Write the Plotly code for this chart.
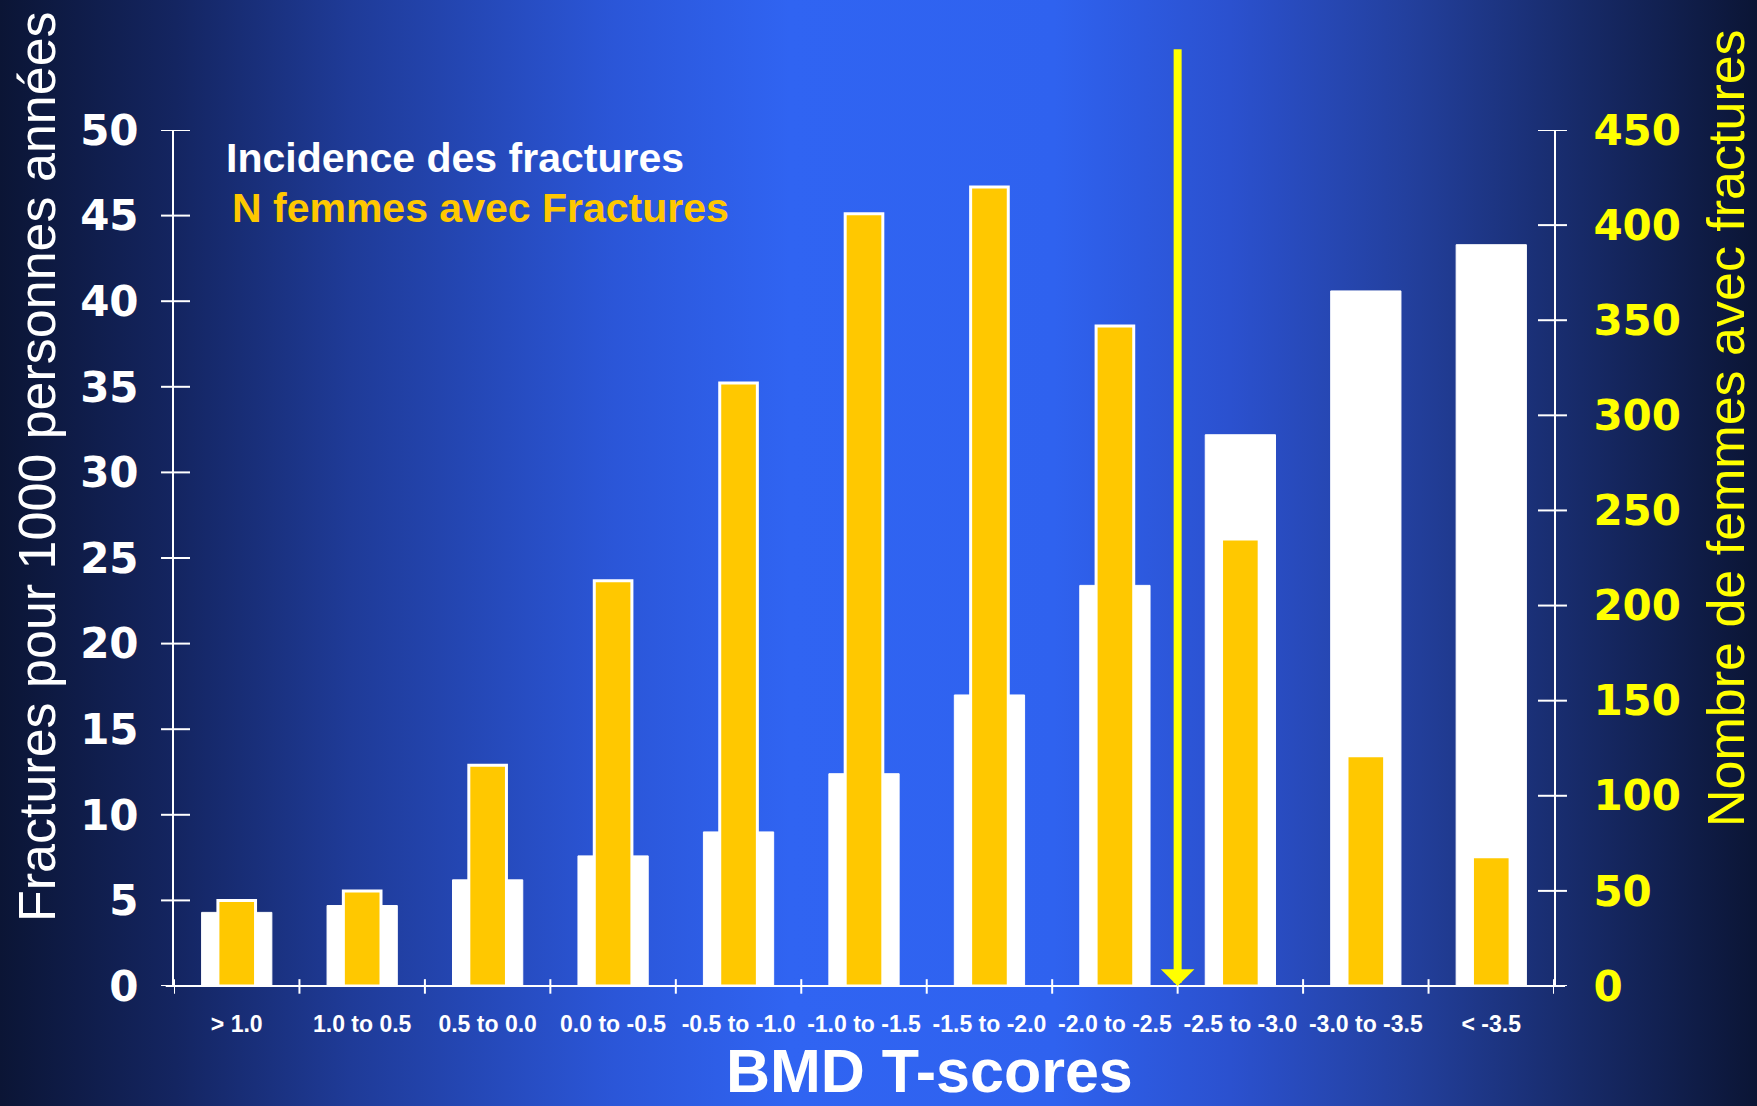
import base64

import plotly.graph_objects as go

# categories (BMD T-score bins)
categories = ["> 1.0", "1.0 to 0.5", "0.5 to 0.0", "0.0 to -0.5", "-0.5 to -1.0",
              "-1.0 to -1.5", "-1.5 to -2.0", "-2.0 to -2.5", "-2.5 to -3.0",
              "-3.0 to -3.5", "< -3.5"]

# fractures per 1000 person-years (left axis)
incidence = [4.3, 4.7, 6.2, 7.6, 9.0, 12.4, 17.0, 23.4, 32.2, 40.6, 43.3]

# number of women with fractures (right axis)
n_women = [45, 50, 116, 213, 317, 406, 420, 347, 235, 121, 68]

left_ticks = list(range(0, 51, 5))
right_ticks = list(range(0, 451, 50))

WHITE = "#ffffff"
GOLD = "#ffc800"
YELLOW = "#ffff00"

W, H = 1757, 1106
L, R, T, B = 174, 203, 130, 120
PW, PH = W - L - R, H - T - B

SANS = "Liberation Sans, Arial, sans-serif"
WIDE = "DejaVu Sans, Verdana, sans-serif"

# horizontal blue gradient behind the chart
stops = [(0.0, "#0b1535"), (0.1, "#142561"), (0.2, "#1f3b98"), (0.35, "#2b56d8"),
         (0.45, "#3064f2"), (0.6, "#2f62ef"), (0.7, "#2b51cf"), (0.8, "#23409e"),
         (0.9, "#172a68"), (1.0, "#0b1535")]
stop_xml = "".join(f'<stop offset="{o}" stop-color="{c}"/>' for o, c in stops)
svg = (f'<svg xmlns="http://www.w3.org/2000/svg" width="{W}" height="{H}" '
       f'preserveAspectRatio="none"><defs><linearGradient id="g" x1="0" x2="1" y1="0" y2="0">'
       f'{stop_xml}</linearGradient></defs><rect width="{W}" height="{H}" fill="url(#g)"/></svg>')
bg_src = "data:image/svg+xml;base64," + base64.b64encode(svg.encode()).decode()

fig = go.Figure()
fig.add_trace(go.Bar(
    x=categories, y=incidence, name="Incidence des fractures",
    width=0.56, marker=dict(color=WHITE, line=dict(color=WHITE, width=1)),
))
fig.add_trace(go.Bar(
    x=categories, y=n_women, name="N femmes avec Fractures", yaxis="y2",
    width=0.30, marker=dict(color=GOLD, line=dict(color=WHITE, width=3)),
))

fig.update_layout(
    width=W, height=H,
    margin=dict(l=L, r=R, t=T, b=B),
    paper_bgcolor="#0b1535",
    plot_bgcolor="rgba(0,0,0,0)",
    barmode="overlay",
    showlegend=False,
    images=[dict(source=bg_src, xref="paper", yref="paper",
                 x=-L / PW, y=1 + T / PH, sizex=W / PW, sizey=H / PH,
                 xanchor="left", yanchor="top", sizing="stretch", layer="below")],
    xaxis=dict(
        type="category", range=[-0.5, 10.5], ticks="", showline=False, showgrid=False,
        tickfont=dict(family=SANS, size=23, color=WHITE, weight="bold"),
        ticklabelstandoff=22,
    ),
    yaxis=dict(
        range=[0, 50], tickvals=left_ticks, ticks="", showline=True, linecolor=WHITE,
        linewidth=2, showgrid=False, zeroline=False,
        tickfont=dict(family=WIDE, size=42, color=WHITE, weight="bold"),
        ticklabelstandoff=25,
    ),
    yaxis2=dict(
        overlaying="y", side="right", anchor="x", range=[0, 450],
        tickvals=right_ticks, ticks="", showline=True, linecolor=WHITE, linewidth=2,
        showgrid=False, zeroline=False,
        tickfont=dict(family=WIDE, size=42, color=YELLOW, weight="bold"),
        ticklabelstandoff=29,
    ),
)

# crossing tick marks (both sides of each axis line) and the base line
tick_line = dict(color=WHITE, width=2)
for v in left_ticks:
    fig.add_shape(type="line", xref="x domain", yref="y", x0=-0.0094, x1=0.0116,
                  y0=v, y1=v, line=tick_line)
for v in right_ticks:
    fig.add_shape(type="line", xref="x domain", yref="y2", x0=0.9884, x1=1.0094,
                  y0=v, y1=v, line=tick_line)
for i in range(len(categories) + 1):
    fig.add_shape(type="line", xref="x", yref="y domain", x0=i - 0.5, x1=i - 0.5,
                  y0=-0.009, y1=0.008, line=tick_line)
fig.add_shape(type="line", xref="x domain", yref="y domain", x0=-0.006, x1=1.008,
              y0=0, y1=0, line=tick_line)

# legend-like labels
fig.add_annotation(text="Incidence des fractures", xref="paper", yref="paper",
                   x=(224 - L) / PW, y=(986 - 158) / PH, xanchor="left", yanchor="middle",
                   showarrow=False, font=dict(family=SANS, size=41, color=WHITE, weight="bold"))
fig.add_annotation(text="N femmes avec Fractures", xref="paper", yref="paper",
                   x=(230 - L) / PW, y=(986 - 208) / PH, xanchor="left", yanchor="middle",
                   showarrow=False, font=dict(family=SANS, size=41, color=GOLD, weight="bold"))

# axis titles
fig.add_annotation(text="Fractures pour 1000 personnes années", xref="paper", yref="paper",
                   x=(37 - L) / PW, y=(986 - 467) / PH, textangle=-90,
                   xanchor="center", yanchor="middle", showarrow=False,
                   font=dict(family=SANS, size=52, color=WHITE))
fig.add_annotation(text="Nombre de femmes avec fractures", xref="paper", yref="paper",
                   x=(1726 - L) / PW, y=(986 - 428) / PH, textangle=-90,
                   xanchor="center", yanchor="middle", showarrow=False,
                   font=dict(family=SANS, size=52, color=YELLOW))
fig.add_annotation(text="BMD T-scores", xref="paper", yref="paper",
                   x=(930 - L) / PW, y=(986 - 1071) / PH,
                   xanchor="center", yanchor="middle", showarrow=False,
                   font=dict(family=SANS, size=61, color=WHITE, weight="bold"))

# osteoporosis threshold arrow at T = -2.5
fig.add_annotation(x=7.5, y=0, xref="x", yref="y", ax=7.5, ay=54.8, axref="x", ayref="y",
                   text="", showarrow=True, arrowhead=1, arrowsize=0.7, arrowwidth=8,
                   arrowcolor=YELLOW, standoff=0)

fig.write_html("out.html", config={"displayModeBar": False},
               post_script="document.body.style.margin='0';"
                           "document.body.style.background='#0b1535';")
